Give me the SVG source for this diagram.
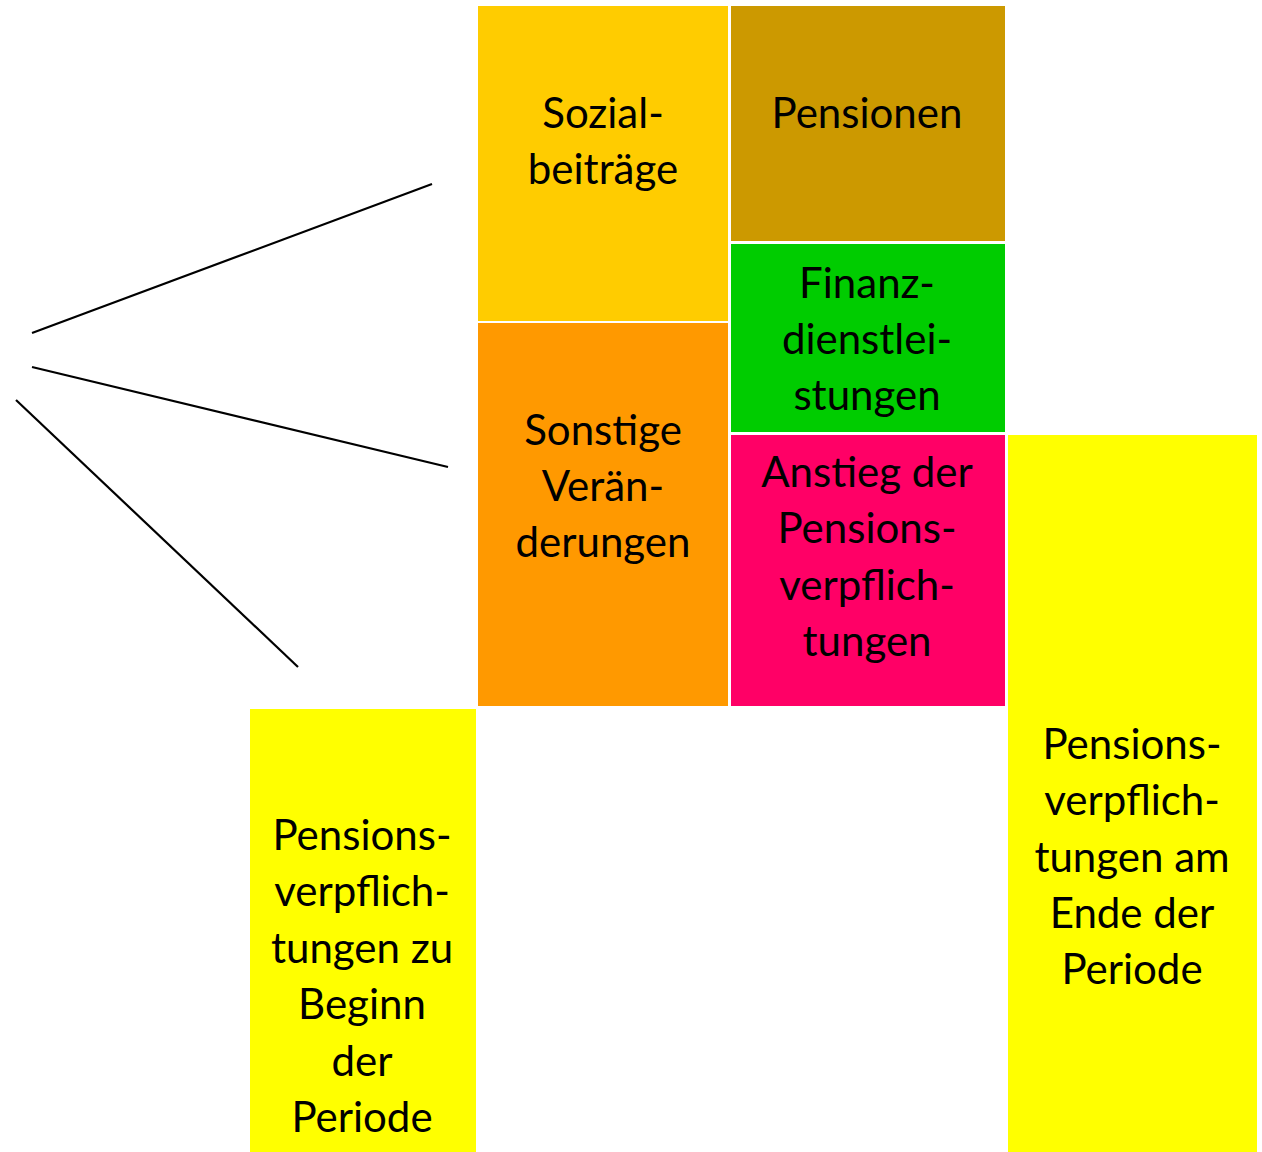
<svg xmlns="http://www.w3.org/2000/svg" width="1262" height="1152" viewBox="0 0 1262 1152">
<style>
text{font-family:"Lato","Open Sans","Liberation Sans",sans-serif;font-size:42px;fill:#000;text-anchor:middle}
.ln{stroke:#000;stroke-width:2.2;fill:none}
</style>
<rect width="1262" height="1152" fill="#fff"/>
<g id="connectors">
<line class="ln" x1="32" y1="333" x2="432" y2="184"/>
<line class="ln" x1="32" y1="367" x2="448" y2="467"/>
<line class="ln" x1="16" y1="400" x2="298" y2="667"/>
</g>
<g id="sozialbeitraege">
<rect x="478" y="6" width="250" height="315" fill="#FFCC00"/>
<text x="603" y="128">Sozial-</text>
<text x="603" y="184">beiträge</text>
</g>
<g id="pensionen">
<rect x="731" y="6" width="274" height="235" fill="#CC9900"/>
<text x="867" y="128">Pensionen</text>
</g>
<g id="finanzdienstleistungen">
<rect x="731" y="244" width="274" height="188" fill="#00CC00"/>
<text x="867" y="298">Finanz-</text>
<text x="867" y="354">dienstlei-</text>
<text x="867" y="410">stungen</text>
</g>
<g id="sonstige">
<rect x="478" y="323" width="250" height="383" fill="#FF9900"/>
<text x="603" y="445">Sonstige</text>
<text x="603" y="501">Verän-</text>
<text x="603" y="557">derungen</text>
</g>
<g id="anstieg">
<rect x="731" y="435" width="274" height="271" fill="#FF0066"/>
<text x="867" y="487">Anstieg der</text>
<text x="867" y="543">Pensions-</text>
<text x="867" y="600">verpflich-</text>
<text x="867" y="656">tungen</text>
</g>
<g id="beginn">
<rect x="250" y="709" width="226" height="443" fill="#FFFF00"/>
<text x="362" y="850">Pensions-</text>
<text x="362" y="906">verpflich-</text>
<text x="362" y="963">tungen zu</text>
<text x="362" y="1019">Beginn</text>
<text x="362" y="1076">der</text>
<text x="362" y="1132">Periode</text>
</g>
<g id="ende">
<rect x="1008" y="435" width="249" height="717" fill="#FFFF00"/>
<text x="1132" y="759">Pensions-</text>
<text x="1132" y="815">verpflich-</text>
<text x="1132" y="872">tungen am</text>
<text x="1132" y="928">Ende der</text>
<text x="1132" y="984">Periode</text>
</g>
</svg>
